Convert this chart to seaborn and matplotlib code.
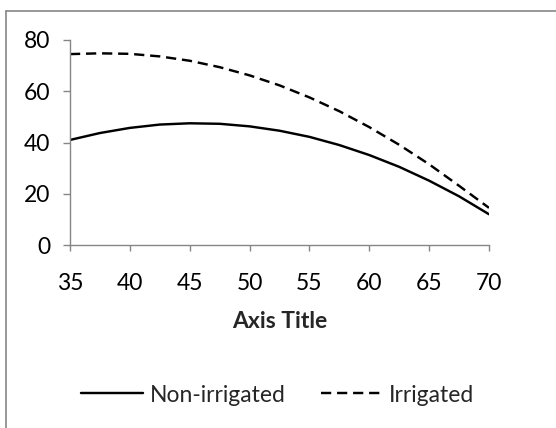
import matplotlib
matplotlib.use("Agg")
import matplotlib.pyplot as plt
from matplotlib.lines import Line2D
import pandas as pd
import seaborn as sns

# ── Data ──────────────────────────────────────────────────────────────────────

age = [35, 37.5, 40, 42.5, 45, 47.5, 50, 52.5, 55, 57.5, 60, 62.5, 65, 67.5, 70]
non_irrigated = [41.0, 43.7, 45.7, 47.0, 47.5, 47.3, 46.3, 44.6, 42.2, 39.0,
                 35.1, 30.5, 25.1, 19.0, 12.0]
irrigated = [74.5, 74.8, 74.6, 73.6, 71.9, 69.4, 66.2, 62.3, 57.6, 52.2,
             46.0, 39.1, 31.5, 23.1, 14.5]
x_ticks = [35, 40, 45, 50, 55, 60, 65, 70]
y_ticks = [0, 20, 40, 60, 80]

df = pd.DataFrame({
    "x": age * 2,
    "y": non_irrigated + irrigated,
    "series": ["Non-irrigated"] * len(age) + ["Irrigated"] * len(age),
})

# ── Style ─────────────────────────────────────────────────────────────────────

sns.set_style("white")
plt.rcParams["font.family"] = ["Lato", "DejaVu Sans"]
FS = 16.5
plt.rcParams["font.size"] = FS
GRAY = "#868686"
LW = 1.75

fig = plt.figure(figsize=(5.56, 4.28), dpi=100)
ax = fig.add_axes([70 / 556, 1 - 245 / 428, (489 - 70) / 556, (245 - 40) / 428])

sns.lineplot(data=df, x="x", y="y", hue="series", style="series",
             palette={"Non-irrigated": "black", "Irrigated": "black"},
             dashes={"Non-irrigated": "", "Irrigated": (4.2, 2.4)},
             linewidth=LW, legend=False, ax=ax)

ax.set_xlim(35, 70)
ax.set_ylim(0, 80)
ax.set_xticks(x_ticks)
ax.set_yticks(y_ticks)
ax.set_xlabel("Axis Title", fontweight="bold", labelpad=12, fontsize=FS)
ax.set_ylabel("")
ax.spines[["top", "right"]].set_visible(False)
for s in ("left", "bottom"):
    ax.spines[s].set_color(GRAY)
    ax.spines[s].set_linewidth(1.0)
ax.tick_params(axis="both", direction="out", width=1.0, color=GRAY,
               labelsize=FS, labelcolor="black", bottom=True, left=True)
ax.tick_params(axis="x", length=4.5, pad=16)
ax.tick_params(axis="y", length=5, pad=9)

handles = [Line2D([], [], color="black", lw=LW, ls="-"),
           Line2D([], [], color="black", lw=LW, ls=(0, (4.2, 2.4)))]
fig.legend(handles, ["Non-irrigated", "Irrigated"], loc="center",
           bbox_to_anchor=(0.5, 1 - 395 / 428), ncol=2, frameon=False,
           handlelength=2.7, handletextpad=0.3, columnspacing=1.5, fontsize=FS)

# chart frame (only top/left edges visible in the crop)
fig.add_artist(Line2D([5.5 / 556, 1], [1 - 10.5 / 428] * 2, color=GRAY, lw=1.2,
                      transform=fig.transFigure))
fig.add_artist(Line2D([5.5 / 556] * 2, [0, 1 - 10.5 / 428], color=GRAY, lw=1.2,
                      transform=fig.transFigure))

fig.savefig("out.png", dpi=100)
